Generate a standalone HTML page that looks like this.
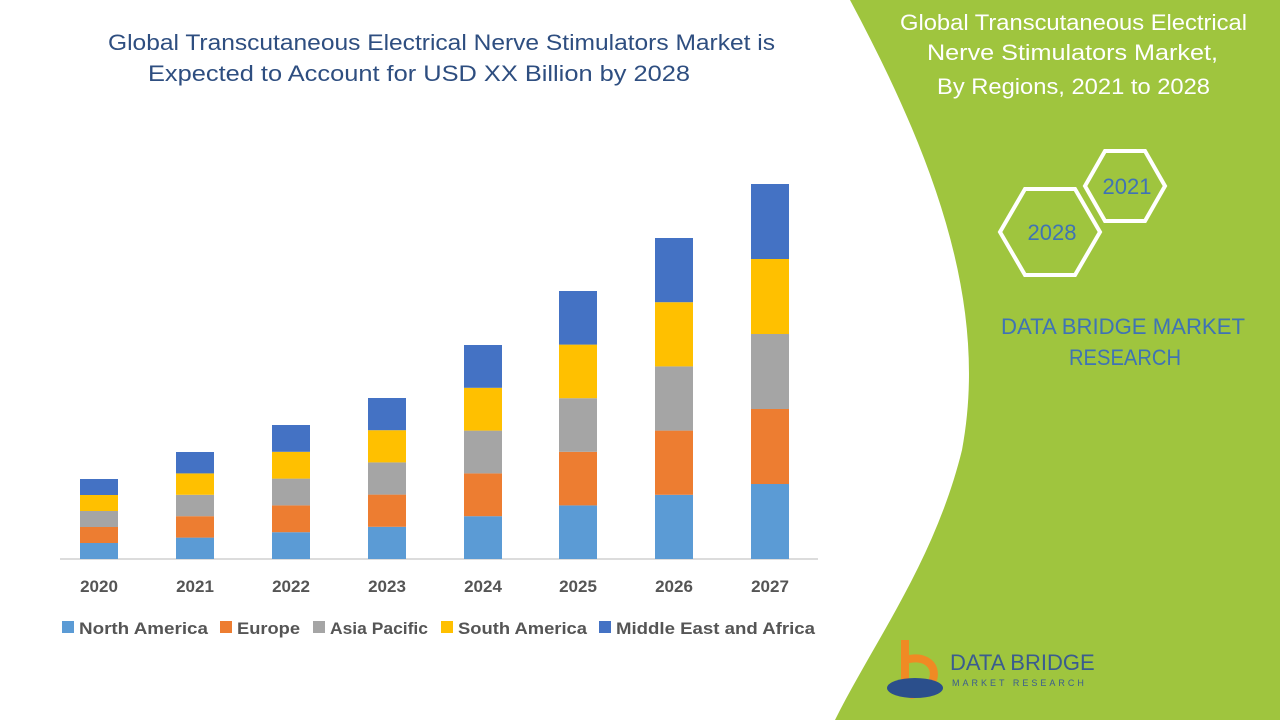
<!DOCTYPE html>
<html><head><meta charset="utf-8"><style>
body{margin:0;width:1280px;height:720px;overflow:hidden;background:#fff;font-family:"Liberation Sans",sans-serif}
</style></head><body>
<svg width="1280" height="720" viewBox="0 0 1280 720" xmlns="http://www.w3.org/2000/svg" font-family="Liberation Sans, sans-serif">
<path d="M850,0 C930,150 990,300 962,450 C935,560 875,640 835,720 L1280,720 L1280,0 Z" fill="#9fc53e"/>
<text x="900" y="30" fill="#fff" font-size="22" textLength="347" lengthAdjust="spacingAndGlyphs">Global Transcutaneous Electrical</text>
<text x="927" y="60" fill="#fff" font-size="22" textLength="291" lengthAdjust="spacingAndGlyphs">Nerve Stimulators Market,</text>
<text x="937" y="94" fill="#fff" font-size="22" textLength="273" lengthAdjust="spacingAndGlyphs">By Regions, 2021 to 2028</text>
<polygon points="1165,186 1145,221 1105,221 1085,186 1105,151 1145,151" fill="none" stroke="#fff" stroke-width="4"/>
<polygon points="1100,232 1075,275 1025,275 1000,232 1025,189 1075,189" fill="none" stroke="#fff" stroke-width="4"/>
<text x="1127" y="194" fill="#3f73b5" font-size="22" text-anchor="middle">2021</text>
<text x="1052" y="240" fill="#3f73b5" font-size="22" text-anchor="middle">2028</text>
<text x="1001" y="334" fill="#3f73b5" font-size="22" textLength="244" lengthAdjust="spacingAndGlyphs">DATA BRIDGE MARKET</text>
<text x="1069" y="365" fill="#3f73b5" font-size="22" textLength="112" lengthAdjust="spacingAndGlyphs">RESEARCH</text>
<text x="108" y="50" fill="#2e4e80" font-size="22" textLength="667" lengthAdjust="spacingAndGlyphs">Global Transcutaneous Electrical Nerve Stimulators Market is</text>
<text x="148" y="81" fill="#2e4e80" font-size="22" textLength="542" lengthAdjust="spacingAndGlyphs">Expected to Account for USD XX Billion by 2028</text>
<line x1="60" y1="559" x2="818" y2="559" stroke="#d0d0d0" stroke-width="1.5"/>
<g id="bars"></g>
<g font-size="17" font-weight="bold" fill="#555" text-anchor="middle">
<text x="99" y="592">2020</text><text x="195" y="592">2021</text><text x="291" y="592">2022</text><text x="387" y="592">2023</text><text x="483" y="592">2024</text><text x="578" y="592">2025</text><text x="674" y="592">2026</text><text x="770" y="592">2027</text>
</g>
<g font-size="17" font-weight="bold" fill="#555">
<rect x="62" y="621" width="12" height="12" fill="#5b9bd5"/><text x="79" y="634" textLength="129" lengthAdjust="spacingAndGlyphs">North America</text>
<rect x="220" y="621" width="12" height="12" fill="#ed7d31"/><text x="237" y="634" textLength="63" lengthAdjust="spacingAndGlyphs">Europe</text>
<rect x="313" y="621" width="12" height="12" fill="#a5a5a5"/><text x="330" y="634" textLength="98" lengthAdjust="spacingAndGlyphs">Asia Pacific</text>
<rect x="441" y="621" width="12" height="12" fill="#ffc000"/><text x="458" y="634" textLength="129" lengthAdjust="spacingAndGlyphs">South America</text>
<rect x="599" y="621" width="12" height="12" fill="#4472c4"/><text x="616" y="634" textLength="199" lengthAdjust="spacingAndGlyphs">Middle East and Africa</text>
</g>
<path d="M905,640 L905,690 M905,660 C940,650 945,690 910,695" stroke="#f08a24" stroke-width="8" fill="none"/>
<ellipse cx="915" cy="688" rx="28" ry="10" fill="#2b4f8c"/>
<text x="950" y="670" fill="#3a5c8f" font-size="22">DATA BRIDGE</text>
<text x="952" y="686" fill="#3a5c8f" font-size="9" letter-spacing="3">MARKET RESEARCH</text>
</svg>
<script>
var data=[[99,16],[195,21.4],[291,26.8],[387,32.2],[483,42.8],[578,53.6],[674,64.2],[770,75]];
var cols=["#5b9bd5","#ed7d31","#a5a5a5","#ffc000","#4472c4"];
var g=document.getElementById("bars"),s="";
data.forEach(function(d){var y=559;for(var i=0;i<5;i++){y-=d[1];s+='<rect x="'+(d[0]-19)+'" y="'+y+'" width="38" height="'+d[1]+'" fill="'+cols[i]+'"/>';}});
g.innerHTML=s;
</script>
</body></html>
